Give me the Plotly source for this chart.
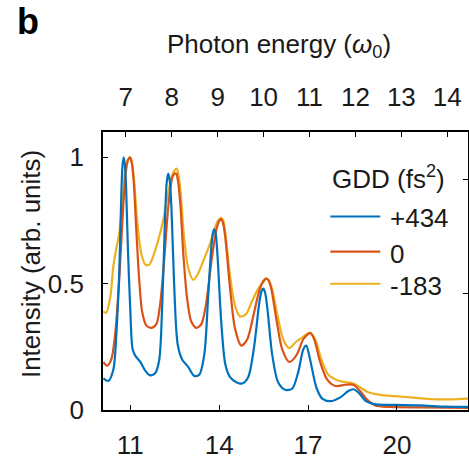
import plotly.graph_objects as go

# ---------------- data ----------------
OMEGA0_EV = 1.55  # photon energy unit used for the top axis (eV)

blue_x = [10.09, 10.26, 10.43, 10.53, 10.63, 10.70, 10.74, 10.78, 10.82, 10.86,
          10.92, 11.00, 11.08, 11.17, 11.34, 11.51, 11.67, 11.84, 11.98, 12.08,
          12.18, 12.23, 12.28, 12.33, 12.39, 12.48, 12.60, 12.75, 12.96, 13.16,
          13.33, 13.50, 13.63, 13.74, 13.79, 13.83, 13.88, 13.95, 14.07, 14.21,
          14.37, 14.58, 14.78, 14.98, 15.18, 15.35, 15.43, 15.49, 15.55, 15.63,
          15.79, 15.99, 16.23, 16.47, 16.67, 16.84, 16.94, 17.07, 17.28, 17.48,
          17.75, 18.09, 18.36, 18.53, 18.70, 18.96, 19.30, 19.94, 20.79, 21.63,
          22.41]
blue_y = [0.125, 0.115, 0.16, 0.30, 0.55, 0.86, 0.97, 1.00, 0.97, 0.88,
          0.64, 0.40, 0.24, 0.215, 0.19, 0.155, 0.137, 0.145, 0.20, 0.42,
          0.78, 0.90, 0.935, 0.91, 0.80, 0.50, 0.26, 0.20, 0.17, 0.135,
          0.14, 0.22, 0.45, 0.65, 0.70, 0.715, 0.70, 0.60, 0.35, 0.18,
          0.13, 0.11, 0.105, 0.13, 0.25, 0.42, 0.47, 0.48, 0.465, 0.40,
          0.22, 0.11, 0.08, 0.085, 0.15, 0.24, 0.255, 0.20, 0.09, 0.045,
          0.035, 0.05, 0.075, 0.082, 0.07, 0.035, 0.022, 0.02, 0.018, 0.013,
          0.012]

red_x = [10.09, 10.22, 10.36, 10.49, 10.63, 10.76, 10.86, 10.93, 10.99, 11.05,
         11.12, 11.20, 11.30, 11.40, 11.54, 11.71, 11.88, 12.01, 12.15, 12.28,
         12.42, 12.49, 12.55, 12.62, 12.70, 12.79, 12.92, 13.06, 13.23, 13.40,
         13.56, 13.73, 13.90, 13.99, 14.06, 14.13, 14.21, 14.37, 14.54, 14.75,
         14.95, 15.15, 15.35, 15.49, 15.58, 15.66, 15.76, 15.93, 16.13, 16.37,
         16.60, 16.84, 17.00, 17.08, 17.21, 17.41, 17.65, 17.92, 18.26, 18.53,
         18.76, 19.00, 19.27, 19.77, 20.79, 22.41]
red_y = [0.19, 0.175, 0.20, 0.30, 0.52, 0.80, 0.95, 0.99, 1.00, 0.98,
         0.90, 0.72, 0.52, 0.39, 0.335, 0.325, 0.34, 0.42, 0.60, 0.80,
         0.92, 0.935, 0.935, 0.90, 0.80, 0.62, 0.44, 0.35, 0.325, 0.34,
         0.42, 0.58, 0.71, 0.745, 0.755, 0.74, 0.68, 0.48, 0.32, 0.255,
         0.28, 0.37, 0.47, 0.51, 0.52, 0.515, 0.48, 0.36, 0.24, 0.19,
         0.215, 0.28, 0.30, 0.305, 0.28, 0.19, 0.12, 0.095, 0.10, 0.10,
         0.075, 0.04, 0.018, 0.012, 0.01, 0.008]

yellow_x = [10.09, 10.19, 10.33, 10.43, 10.53, 10.63, 10.73, 10.83, 10.92, 10.99,
            11.05, 11.12, 11.24, 11.37, 11.51, 11.64, 11.78, 11.94, 12.11, 12.28,
            12.42, 12.50, 12.57, 12.63, 12.70, 12.82, 12.96, 13.13, 13.29, 13.50,
            13.67, 13.80, 13.94, 14.01, 14.07, 14.14, 14.21, 14.37, 14.54, 14.71,
            14.91, 15.11, 15.32, 15.52, 15.59, 15.66, 15.76, 15.96, 16.16, 16.37,
            16.60, 16.84, 17.04, 17.24, 17.45, 17.68, 17.95, 18.26, 18.53, 18.76,
            19.03, 19.44, 19.94, 20.45, 21.12, 21.80, 22.41]
yellow_y = [0.39, 0.385, 0.45, 0.57, 0.64, 0.70, 0.82, 0.95, 0.99, 1.00,
            0.98, 0.92, 0.74, 0.62, 0.575, 0.575, 0.61, 0.67, 0.75, 0.86,
            0.93, 0.95, 0.955, 0.93, 0.86, 0.68, 0.56, 0.515, 0.54, 0.60,
            0.65, 0.70, 0.745, 0.755, 0.76, 0.75, 0.70, 0.53, 0.41, 0.37,
            0.38, 0.43, 0.48, 0.51, 0.52, 0.515, 0.49, 0.38, 0.28, 0.245,
            0.27, 0.29, 0.305, 0.28, 0.20, 0.14, 0.12, 0.11, 0.105, 0.09,
            0.07, 0.06, 0.055, 0.05, 0.043, 0.042, 0.045]

series_names = ["+434", "0", "-183"]
series_colors = ["#0072BD", "#D95319", "#EDB120"]
series_x = [blue_x, red_x, yellow_x]
series_y = [blue_y, red_y, yellow_y]

x_range = [10.08, 22.4]
x_ticks = [11, 14, 17, 20]
top_ticks = [7, 8, 9, 10, 11, 12, 13, 14]
y_range = [0, 1.1]
y_ticks = [0, 0.5, 1]
y_ticktext = ["0", "0.5", "1"]
right_ticks = [0.4617, 0.913]

FONT = "Liberation Sans, Arial, Helvetica, sans-serif"
FS = 26
TXT = "#1a1a1a"

fig = go.Figure()

# draw order: yellow, red, blue (blue on top)
for i in [2, 1, 0]:
    fig.add_trace(go.Scatter(
        x=series_x[i], y=series_y[i], mode="lines", name=series_names[i],
        line=dict(color=series_colors[i], width=2.2, shape="spline", smoothing=0.8),
        showlegend=False, hoverinfo="skip"))

# helper traces so that the top and right axes are drawn
fig.add_trace(go.Scatter(x=top_ticks, y=[None] * len(top_ticks),
                         xaxis="x2", yaxis="y", mode="lines", showlegend=False,
                         hoverinfo="skip"))
fig.add_trace(go.Scatter(x=[None, None], y=y_range, xaxis="x", yaxis="y2",
                         mode="lines", showlegend=False, hoverinfo="skip"))

axis_common = dict(showgrid=False, zeroline=False, showline=True, linecolor="black",
                   linewidth=1.6, ticks="inside", ticklen=5, tickwidth=1.4,
                   tickcolor="black", tickfont=dict(family=FONT, size=FS, color=TXT))

fig.update_layout(
    width=469, height=461,
    margin=dict(l=103, r=1, t=132, b=44),
    paper_bgcolor="white", plot_bgcolor="white",
    font=dict(family=FONT, size=FS, color=TXT),
    xaxis=dict(range=x_range, tickmode="array", tickvals=x_ticks,
               ticklabelstandoff=11, **axis_common),
    xaxis2=dict(range=[x_range[0] / OMEGA0_EV, x_range[1] / OMEGA0_EV],
                overlaying="x", side="top", anchor="y", tickmode="array",
                tickvals=top_ticks, ticklabelstandoff=14, **axis_common),
    yaxis=dict(range=y_range, tickmode="array", tickvals=y_ticks,
               ticktext=y_ticktext, ticklabelstandoff=12, **axis_common),
    yaxis2=dict(range=y_range, overlaying="y", side="right", anchor="x",
                tickmode="array", tickvals=right_ticks, showticklabels=False,
                **axis_common),
)

# plot-area geometry in pixels (for paper conversion)
L, R, T, B = 102.7, 467.7, 132.3, 417.5
def px(xp):
    return (xp - L) / (R - L)
def py(yp):
    return (B - yp) / (B - T)

annotations = [
    dict(text="Photon energy (<i>ω</i><sub>0</sub>)", x=px(279), y=py(44),
         xanchor="center", yanchor="middle"),
    dict(text="Intensity (arb. units)", x=px(30), y=py(267.5), textangle=-90,
         xanchor="center", yanchor="middle"),
    dict(text="<b>b</b>", x=px(28), y=py(19), xanchor="center", yanchor="middle",
         font=dict(family=FONT, size=36, color="black")),
    dict(text="GDD (fs<sup>2</sup>)", x=px(330), y=py(179), xanchor="left",
         yanchor="middle"),
]
legend_rows = [219, 255, 288]
for name, color, row in zip(series_names, series_colors, legend_rows):
    fig.add_shape(type="line", xref="paper", yref="paper",
                  x0=px(330), x1=px(380), y0=py(row), y1=py(row),
                  line=dict(color=color, width=2.2))
    annotations.append(dict(text=name, x=px(388), y=py(row + 2), xanchor="left",
                            yanchor="middle"))

for a in annotations:
    a.setdefault("xref", "paper")
    a.setdefault("yref", "paper")
    a.setdefault("showarrow", False)
    a.setdefault("font", dict(family=FONT, size=FS, color=TXT))
fig.update_layout(annotations=annotations)

fig.write_html("out.html")
